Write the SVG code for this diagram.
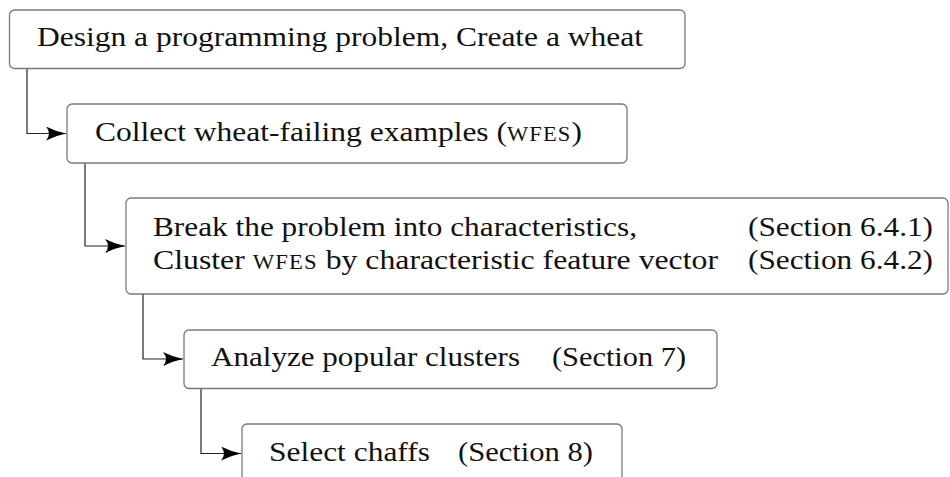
<svg xmlns="http://www.w3.org/2000/svg" width="950" height="477" viewBox="0 0 950 477">
<defs>
<marker id="arr" markerUnits="userSpaceOnUse" markerWidth="22" markerHeight="16" refX="20" refY="7" orient="auto">
<path d="M0,0 Q10,5 20,7 Q10,9 0,14 Q6,7 0,0 Z" fill="#000"/>
</marker>
</defs>
<style>
.box{fill:#fff;stroke:#7a7a7a;stroke-width:1.3}
.t{font-family:"Liberation Serif","DejaVu Serif",serif;font-size:28px;fill:#111}
.sc{font-variant:small-caps;letter-spacing:1px}
.c{fill:none;stroke:#222;stroke-width:1.2}
</style>
<rect width="950" height="477" fill="#fff"/>
<g id="connectors">
<path class="c" d="M27,68 V133.5 H66" marker-end="url(#arr)"/>
<path class="c" d="M85,163 V246 H125" marker-end="url(#arr)"/>
<path class="c" d="M143,294 V359 H183" marker-end="url(#arr)"/>
<path class="c" d="M201,388 V453.5 H241" marker-end="url(#arr)"/>
</g>
<g id="n1">
<rect class="box" x="9.5" y="10" width="675.5" height="58.5" rx="5"/>
<text class="t" x="37" y="46" textLength="606" lengthAdjust="spacingAndGlyphs">Design a programming problem, Create a wheat</text>
</g>
<g id="n2">
<rect class="box" x="67" y="104" width="560" height="59" rx="5"/>
<text class="t" x="95" y="141" textLength="487" lengthAdjust="spacingAndGlyphs">Collect wheat-failing examples (<tspan class="sc">wfes</tspan>)</text>
</g>
<g id="n3">
<rect class="box" x="126" y="198" width="822" height="96" rx="5"/>
<text class="t" x="153" y="236" textLength="484" lengthAdjust="spacingAndGlyphs">Break the problem into characteristics,</text>
<text class="t" x="748" y="236" textLength="185" lengthAdjust="spacingAndGlyphs">(Section 6.4.1)</text>
<text class="t" x="153" y="269" textLength="565" lengthAdjust="spacingAndGlyphs">Cluster <tspan class="sc">wfes</tspan> by characteristic feature vector</text>
<text class="t" x="748" y="269" textLength="185" lengthAdjust="spacingAndGlyphs">(Section 6.4.2)</text>
</g>
<g id="n4">
<rect class="box" x="184" y="330" width="533" height="58.5" rx="5"/>
<text class="t" x="211" y="366" textLength="309" lengthAdjust="spacingAndGlyphs">Analyze popular clusters</text>
<text class="t" x="552" y="366" textLength="134" lengthAdjust="spacingAndGlyphs">(Section 7)</text>
</g>
<g id="n5">
<rect class="box" x="242" y="424" width="380" height="60" rx="5"/>
<text class="t" x="269" y="461" textLength="161" lengthAdjust="spacingAndGlyphs">Select chaffs</text>
<text class="t" x="458" y="461" textLength="135" lengthAdjust="spacingAndGlyphs">(Section 8)</text>
</g>
</svg>
